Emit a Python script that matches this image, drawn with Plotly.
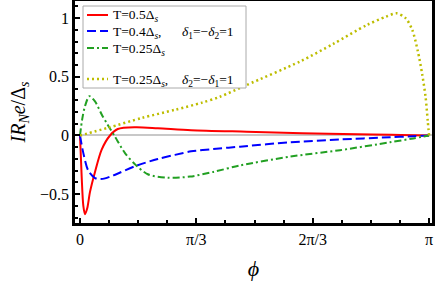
import math
import plotly.graph_objects as go

PI = math.pi

# Data (phi in radians, value = I R_N e / Delta_s)
red_phi = [0, 0.015, 0.03, 0.045, 0.065, 0.09, 0.135, 0.195, 0.27, 0.34, 0.5, 0.7, 1.0, 1.5, 2.0, 2.5, 2.8, 3.0, PI]
red_val = [0, -0.35, -0.6, -0.67, -0.62, -0.48, -0.31, -0.12, 0.0, 0.055, 0.07, 0.062, 0.045, 0.032, 0.02, 0.01, 0.006, 0.003, 0]

blue_phi = [0, 0.03, 0.075, 0.135, 0.18, 0.225, 0.3, 0.5, 0.7, 0.855, 1.0, 1.2, 1.44, 1.89, 2.34, 2.79, 3.0, PI]
blue_val = [0, -0.15, -0.3, -0.362, -0.37, -0.365, -0.34, -0.26, -0.2, -0.165, -0.135, -0.115, -0.095, -0.058, -0.034, -0.015, -0.006, 0]

green_phi = [0, 0.02, 0.045, 0.085, 0.135, 0.2, 0.25, 0.315, 0.405, 0.5, 0.61, 0.79, 0.99, 1.2, 1.44, 1.89, 2.34, 2.79, 3.0, PI]
green_val = [0, 0.14, 0.25, 0.335, 0.29, 0.17, 0.09, -0.01, -0.15, -0.25, -0.33, -0.36, -0.35, -0.31, -0.255, -0.18, -0.125, -0.058, -0.025, 0]

yellow_phi = [0, 0.25, 0.56, 0.86, 1.1, 1.26, 1.5, 1.98, 2.28, 2.58, 2.75, 2.85, 2.93, 2.99, 3.04, 3.08, 3.11, 3.13, PI]
yellow_val = [0, 0.065, 0.15, 0.22, 0.28, 0.33, 0.43, 0.63, 0.78, 0.94, 1.01, 1.04, 1.0, 0.9, 0.72, 0.52, 0.33, 0.12, 0]

x_tickvals = [0, PI / 3, 2 * PI / 3, PI]
x_ticktext = ["0", "π/3", "2π/3", "π"]
y_tickvals = [-0.5, 0, 0.5, 1]
y_ticktext = ["−0.5", "0", "0.5", "1"]

legend_labels = [
    "T=0.5Δ<sub><i>s</i></sub>",
    "T=0.4Δ<sub><i>s</i></sub>,",
    "T=0.25Δ<sub><i>s</i></sub>",
    "T=0.25Δ<sub><i>s</i></sub>,",
]
legend_extra = [
    None,
    "<i>δ</i><sub>1</sub>=−<i>δ</i><sub>2</sub>=1",
    None,
    "<i>δ</i><sub>2</sub>=−<i>δ</i><sub>1</sub>=1",
]

SERIF = "Liberation Serif, Times New Roman, serif"
W, H = 436, 285
ML, MR, MT, MB = 75, 4, 1, 62
PW, PH = W - ML - MR, H - MT - MB

colors = ["#ff0000", "#0000ff", "#22a022", "#bdbd00"]
dashes = ["solid", "9px,4px", "7px,3px,2px,3px", "2px,3px"]
widths = [2, 2, 2, 2.5]

fig = go.Figure()
series = [(red_phi, red_val), (blue_phi, blue_val), (green_phi, green_val), (yellow_phi, yellow_val)]
for i, (xs, ys) in enumerate(series):
    fig.add_trace(go.Scatter(x=xs, y=ys, mode="lines", showlegend=False,
                             line=dict(color=colors[i], width=widths[i], dash=dashes[i],
                                       shape="spline", smoothing=0.8)))

# Legend box: pixel positions converted to paper (plot-area) fractions
def px(x):
    return (x - ML) / PW

def py(y):
    return (H - MB - y) / PH

fig.add_shape(type="rect", xref="paper", yref="paper",
              x0=px(83), x1=px(246), y0=py(6), y1=py(88),
              fillcolor="white", line=dict(color="#aaaaaa", width=1), layer="above")
rows = [15, 31, 48, 79]
annotations = []
for i, ry in enumerate(rows):
    fig.add_shape(type="line", xref="paper", yref="paper",
                  x0=px(87), x1=px(108), y0=py(ry), y1=py(ry),
                  line=dict(color=colors[i], width=widths[i], dash=dashes[i]), layer="above")
    annotations.append(dict(xref="paper", yref="paper", x=px(111), y=py(ry + 1),
                            xanchor="left", yanchor="middle", showarrow=False,
                            text=legend_labels[i], font=dict(family=SERIF, size=13.5)))
    if legend_extra[i]:
        annotations.append(dict(xref="paper", yref="paper", x=px(180), y=py(ry + 1),
                                xanchor="left", yanchor="middle", showarrow=False,
                                text=legend_extra[i], font=dict(family=SERIF, size=13.5)))

fig.update_layout(
    width=W, height=H,
    margin=dict(l=ML, r=MR, t=MT, b=MB),
    paper_bgcolor="white", plot_bgcolor="white",
    font=dict(family=SERIF, size=16, color="black"),
    showlegend=False,
    annotations=annotations,
)
fig.update_xaxes(
    range=[-0.045, 3.168], showgrid=False, zeroline=False, automargin=False,
    tickmode="array", tickvals=x_tickvals, ticktext=x_ticktext,
    ticks="inside", ticklen=5, tickwidth=2, tickcolor="black",
    minor=dict(tickmode="linear", tick0=0, dtick=PI / 12, ticks="inside", ticklen=3, tickwidth=1.5, tickcolor="black"),
    showline=True, linecolor="black", linewidth=2.5, mirror=True,
    tickfont=dict(family=SERIF, size=16),
    title=dict(text="<i>ϕ</i>", font=dict(family=SERIF, size=22), standoff=14),
)
fig.update_yaxes(
    range=[-0.745, 1.145], showgrid=False, automargin=False,
    zeroline=True, zerolinecolor="#c8c8c8", zerolinewidth=2,
    tickmode="array", tickvals=y_tickvals, ticktext=y_ticktext,
    ticks="inside", ticklen=5, tickwidth=2, tickcolor="black",
    minor=dict(tickmode="linear", tick0=0, dtick=0.1, ticks="inside", ticklen=3, tickwidth=1.5, tickcolor="black"),
    showline=True, linecolor="black", linewidth=2.5, mirror=True,
    tickfont=dict(family=SERIF, size=16),
    title=dict(text="<i>IR<sub>N</sub>e</i>/Δ<sub><i>s</i></sub>", font=dict(family=SERIF, size=20), standoff=10),
)

fig.write_html("out.html", config={"displayModeBar": False},
               post_script="document.body.style.margin='0';")
